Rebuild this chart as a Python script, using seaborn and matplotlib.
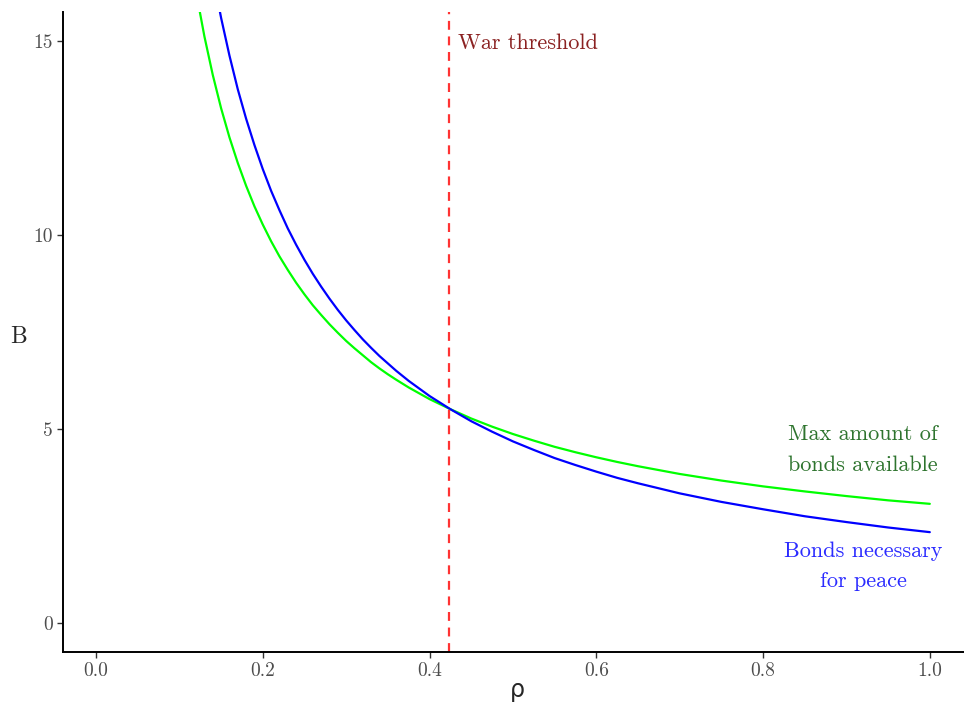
import numpy as np
import pandas as pd
import matplotlib
matplotlib.use("Agg")
import matplotlib.pyplot as plt
import seaborn as sns

# values
rho = [0.12, 0.13, 0.14, 0.15, 0.16, 0.17, 0.18, 0.19, 0.20, 0.21, 0.22, 0.23,
       0.24, 0.25, 0.26, 0.27, 0.28, 0.29, 0.30, 0.31, 0.32, 0.33, 0.34, 0.35,
       0.36, 0.375, 0.40, 0.425, 0.45, 0.475, 0.50, 0.525, 0.55, 0.575, 0.60,
       0.625, 0.65, 0.675, 0.70, 0.75, 0.80, 0.85, 0.90, 0.95, 1.00]
bonds_available = [16.27, 15.12, 14.13, 13.27, 12.52, 11.86, 11.27, 10.74, 10.27,
                   9.84, 9.45, 9.10, 8.77, 8.47, 8.19, 7.94, 7.70, 7.48, 7.27,
                   7.08, 6.90, 6.72, 6.56, 6.41, 6.27, 6.07, 5.77, 5.51, 5.27,
                   5.06, 4.87, 4.70, 4.54, 4.40, 4.27, 4.15, 4.04, 3.94, 3.84,
                   3.67, 3.52, 3.39, 3.27, 3.16, 3.07]
bonds_needed = [19.50, 18.00, 16.71, 15.60, 14.63, 13.76, 13.00, 12.32, 11.70,
                11.14, 10.64, 10.17, 9.75, 9.36, 9.00, 8.67, 8.36, 8.07, 7.80,
                7.55, 7.31, 7.09, 6.88, 6.69, 6.50, 6.24, 5.85, 5.51, 5.20,
                4.93, 4.68, 4.46, 4.25, 4.07, 3.90, 3.74, 3.60, 3.47, 3.34,
                3.12, 2.93, 2.75, 2.60, 2.46, 2.34]
war_threshold = 0.4233
y_ticks = [0, 5, 10, 15]
x_ticks = [0.0, 0.2, 0.4, 0.6, 0.8, 1.0]

df = pd.DataFrame({"rho": rho, "avail": bonds_available, "need": bonds_needed})

sns.set_style("ticks")
plt.rcParams['font.family'] = ['cmr10', 'DejaVu Serif']
plt.rcParams['axes.formatter.use_mathtext'] = True

fig = plt.figure(figsize=(9.64, 7.05), dpi=100)
ax = fig.add_axes([63 / 964, 1 - 652 / 705, 1 - 63 / 964, (652 - 12) / 705])

sns.lineplot(data=df, x="rho", y="avail", color="#00ff00", lw=1.6, ax=ax)
sns.lineplot(data=df, x="rho", y="need", color="#0000ff", lw=1.6, ax=ax)
ax.axvline(war_threshold, color="#ff3333", lw=1.6, ls=(0, (4, 3)))

ax.text(war_threshold + 0.011, 14.95, "War threshold", color="#8b2222",
        fontsize=16, ha="left", va="center")
ax.text(0.92, 4.46, "Max amount of\nbonds available", color="#2e742e",
        fontsize=16, ha="center", va="center", linespacing=1.7)
ax.text(0.92, 1.46, "Bonds necessary\nfor peace", color="#2b2bff",
        fontsize=16, ha="center", va="center", linespacing=1.7)

ax.set_xlim(-0.0396, 1.041)
ax.set_ylim(-0.75, 15.75)
ax.set_xticks(x_ticks)
ax.set_xticklabels([f"{t:.1f}" for t in x_ticks])
ax.set_yticks(y_ticks)
ax.set_yticklabels([str(t) for t in y_ticks])
ax.tick_params(colors="#333333", labelcolor="#4d4d4d", labelsize=14,
               length=4, width=1)
ax.set_xlabel("")
ax.set_ylabel("")

# axis titles placed where the reference has them
fig.text(517 / 964, 1 - 690 / 705, "ρ", fontsize=17, family="DejaVu Sans",
         ha="center", va="center")
fig.text(19 / 964, 1 - 337 / 705, "B", fontsize=17, ha="center", va="center")

sns.despine(ax=ax)
for s in ["left", "bottom"]:
    ax.spines[s].set_linewidth(1.4)
    ax.spines[s].set_color("black")

fig.savefig("out.png", dpi=100)
